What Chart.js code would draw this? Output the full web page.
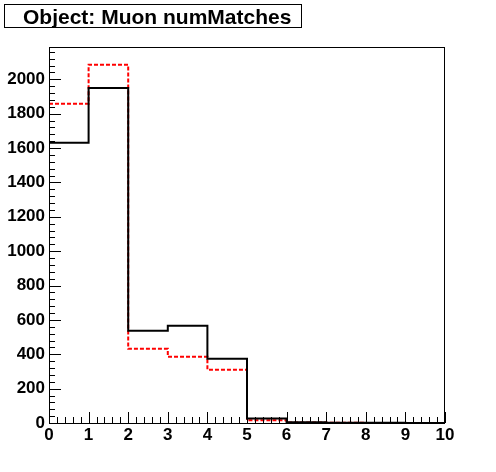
<!DOCTYPE html>
<html>
<head>
<meta charset="utf-8">
<script src="https://cdn.jsdelivr.net/npm/chart.js@4/dist/chart.umd.min.js"></script>
<style>
  html, body { margin: 0; padding: 0; background: #fff; }
  #wrap { width: 496px; height: 472px; position: relative; }
</style>
</head>
<body>
<div id="wrap"><canvas id="hist"></canvas></div>
<script>
// bin low edges and counts (numMatches)
const binEdges = [0, 1, 2, 3, 4, 5, 6, 7, 8, 9, 10];
const countsBlack = [1631, 1949, 537, 566, 374, 26, 4, 2, 1, 0];
const countsRed = [1858, 2085, 432, 386, 310, 16, 3, 1, 0, 0];
const yTicks = [0, 200, 400, 600, 800, 1000, 1200, 1400, 1600, 1800, 2000];
const titleText = 'Object: Muon numMatches';

function steps(counts) {
  const pts = binEdges.map((x, i) => ({ x: x, y: counts[Math.min(i, counts.length - 1)] }));
  return pts;
}

const rootFrame = {
  id: 'rootFrame',
  beforeDraw(chart) {
    const c = chart.ctx;
    c.save();
    c.fillStyle = '#fff';
    c.fillRect(0, 0, chart.width, chart.height);
    c.restore();
  },
  afterDraw(chart) {
    const c = chart.ctx;
    const a = chart.chartArea;
    const xs = chart.scales.x, ys = chart.scales.y;
    c.save();
    c.strokeStyle = '#000';
    c.lineWidth = 1;
    c.strokeRect(a.left + 0.5, a.top + 0.5, a.right - a.left - 1, a.bottom - a.top);
    c.beginPath();
    // x ticks, inside the frame
    for (let v = 0; v <= 10.001; v += 0.2) {
      const px = Math.round(xs.getPixelForValue(v)) + 0.5;
      const major = Math.abs(v - Math.round(v)) < 1e-6;
      const len = major ? 11 : 6;
      c.moveTo(px, a.bottom);
      c.lineTo(px, a.bottom - len);
    }
    // y ticks
    for (let v = 0; v <= ys.max; v += 40) {
      const py = Math.round(ys.getPixelForValue(v)) + 0.5;
      const major = v % 200 === 0;
      const len = major ? 12 : 6;
      c.moveTo(a.left, py);
      c.lineTo(a.left + len, py);
    }
    c.stroke();
    // title box
    c.fillStyle = '#fff';
    c.fillRect(4.5, 4.5, 297, 23);
    c.strokeRect(4.5, 4.5, 297, 23);
    c.fillStyle = '#000';
    c.font = 'bold 21px "Liberation Sans", Arial, sans-serif';
    c.textBaseline = 'alphabetic';
    c.fillText(titleText, 23, 24);
    c.restore();
  }
};

new Chart(document.getElementById('hist'), {
  type: 'line',
  data: {
    datasets: [
      {
        label: 'black',
        data: steps(countsBlack),
        stepped: 'before',
        borderColor: '#000',
        borderWidth: 2,
        pointRadius: 0,
        fill: false
      },
      {
        label: 'red',
        data: steps(countsRed),
        stepped: 'before',
        borderColor: '#f00',
        borderWidth: 2,
        borderDash: [4, 2],
        pointRadius: 0,
        fill: false
      }
    ]
  },
  options: {
    responsive: true,
    maintainAspectRatio: false,
    animation: false,
    layout: { padding: { top: 47, right: 51, left: 0, bottom: 0 } },
    plugins: { legend: { display: false }, tooltip: { enabled: false } },
    scales: {
      x: {
        type: 'linear',
        min: 0,
        max: 10,
        grid: { display: false, drawTicks: false },
        border: { display: false },
        afterFit(s) { s.height = 49; },
        ticks: {
          stepSize: 1,
          autoSkip: false,
          maxRotation: 0,
          padding: 2,
          color: '#000',
          font: { family: '"Liberation Sans", Arial, sans-serif', size: 17, weight: 'bold' }
        }
      },
      y: {
        type: 'linear',
        min: 0,
        max: 2188,
        afterBuildTicks(s) { s.ticks = yTicks.map(v => ({ value: v })); },
        afterFit(s) { s.width = 49; },
        grid: { display: false, drawTicks: false },
        border: { display: false },
        ticks: {
          autoSkip: false,
          padding: 4,
          color: '#000',
          callback: v => String(v),
          font: { family: '"Liberation Sans", Arial, sans-serif', size: 17, weight: 'bold' }
        }
      }
    }
  },
  plugins: [rootFrame]
});
</script>
</body>
</html>
